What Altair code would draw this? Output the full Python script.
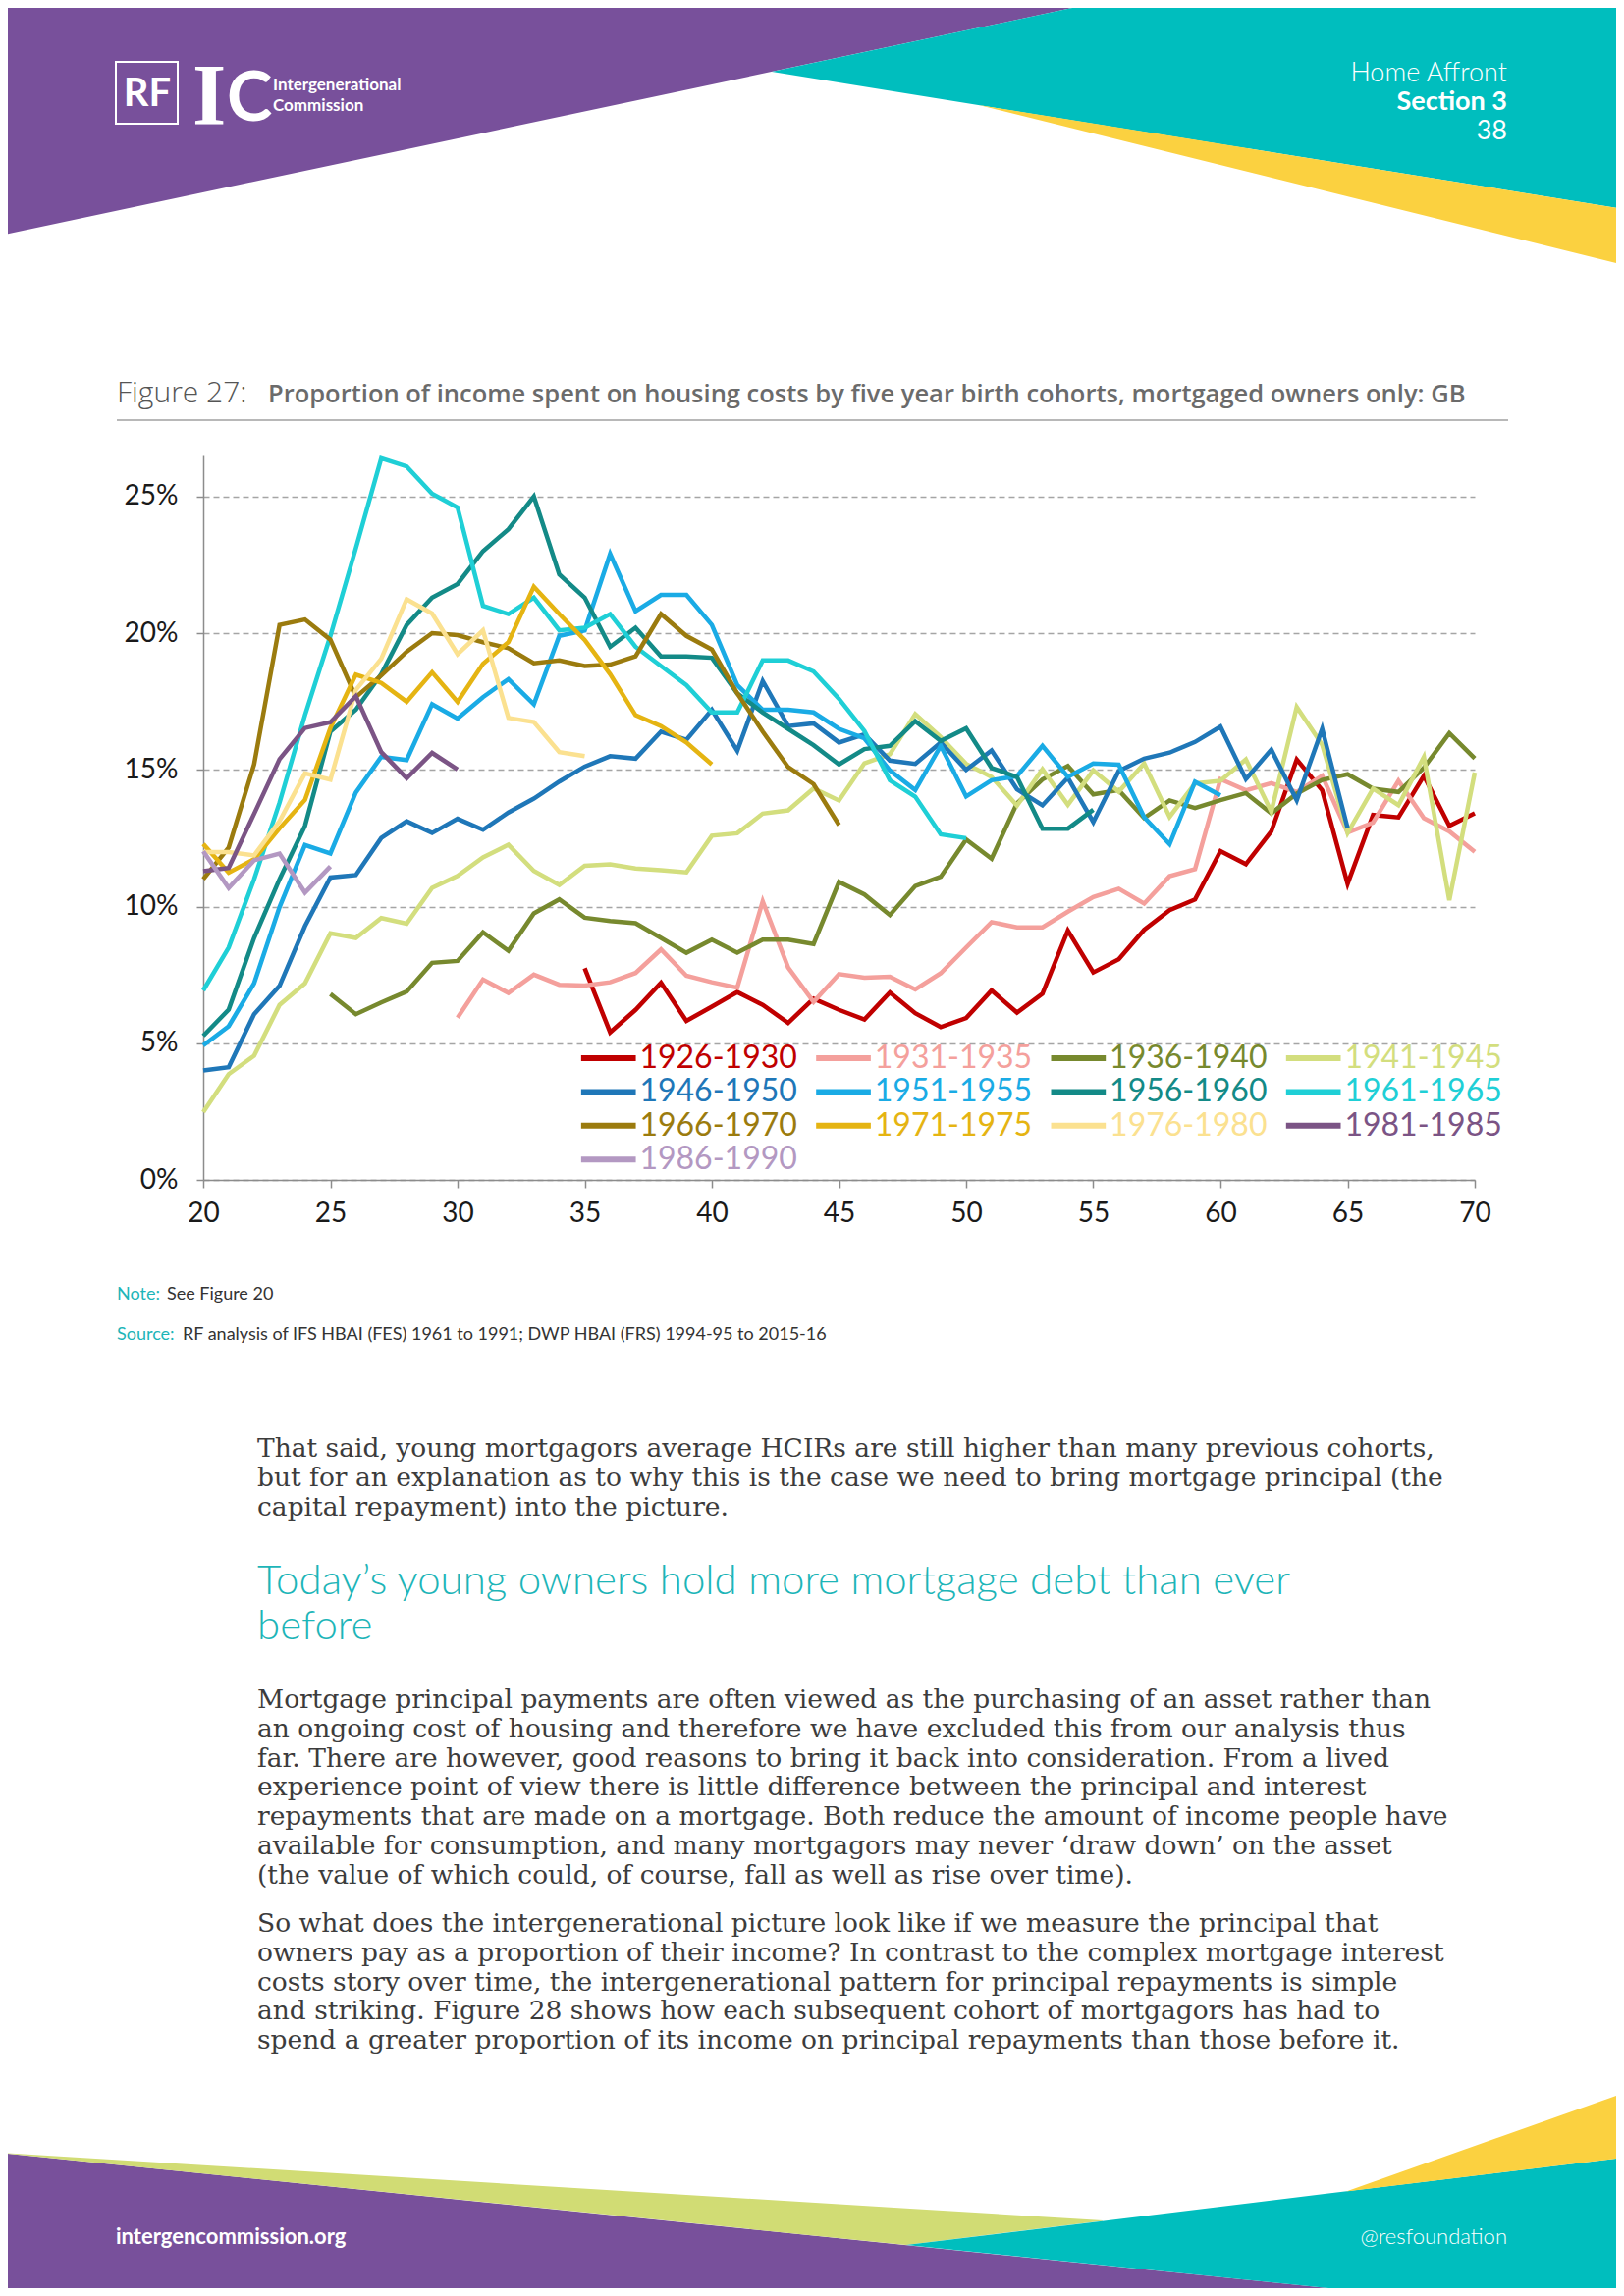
import altair as alt
import pandas as pd

# ---------------- data ----------------
cohorts = ["1926-1930", "1931-1935", "1936-1940", "1941-1945", "1946-1950",
           "1951-1955", "1956-1960", "1961-1965", "1966-1970", "1971-1975",
           "1976-1980", "1981-1985", "1986-1990"]
colors = ["#C00000", "#F4A09C", "#77892E", "#D3DE7E", "#1F77B8", "#1AABE5",
          "#138A87", "#1FCFD6", "#9B7B0E", "#E5B412", "#FBE190", "#7B5485", "#B398C2"]
start_age = [35, 30, 25, 20, 20, 20, 20, 20, 20, 20, 20, 20, 20]

v1926 = [7.74, 5.40, 6.22, 7.21, 5.82, 6.34, 6.87, 6.40, 5.74, 6.63, 6.22, 5.87, 6.86, 6.10,
         5.59, 5.92, 6.93, 6.12, 6.81, 9.12, 7.59, 8.07, 9.15, 9.87, 10.26, 12.03, 11.55,
         12.75, 15.38, 14.25, 10.83, 13.35, 13.26, 14.78, 12.95, 13.41]
v1931 = [5.93, 7.33, 6.84, 7.51, 7.14, 7.11, 7.23, 7.57, 8.43, 7.47, 7.23, 7.03, 10.19, 7.77,
         6.51, 7.53, 7.40, 7.43, 6.97, 7.56, 8.50, 9.43, 9.24, 9.24, 9.81, 10.35, 10.65,
         10.11, 11.11, 11.37, 14.66, 14.25, 14.51, 14.19, 14.78, 12.71, 13.07, 14.60, 13.23,
         12.75, 12.00]
v1936 = [6.80, 6.06, 6.49, 6.89, 7.94, 8.01, 9.06, 8.38, 9.75, 10.26, 9.59, 9.47, 9.39, 8.85,
         8.31, 8.79, 8.31, 8.79, 8.79, 8.63, 10.90, 10.44, 9.69, 10.75, 11.09, 12.45, 11.75,
         13.78, 14.65, 15.14, 14.10, 14.26, 13.24, 13.88, 13.60, 13.89, 14.15, 13.41, 14.13,
         14.63, 14.84, 14.31, 14.19, 15.08, 16.34, 15.42]
v1941 = [2.48, 3.87, 4.54, 6.40, 7.19, 9.02, 8.85, 9.58, 9.37, 10.68, 11.12, 11.80, 12.26,
         11.30, 10.79, 11.49, 11.54, 11.39, 11.33, 11.25, 12.59, 12.68, 13.40, 13.52, 14.32,
         13.88, 15.24, 15.57, 17.04, 16.20, 15.22, 14.74, 13.69, 15.02, 13.72, 14.98, 14.20,
         15.23, 13.28, 14.50, 14.60, 15.38, 13.47, 17.30, 15.92, 12.69, 14.31, 13.71, 15.47,
         10.23, 14.90]
v1946 = [4.00, 4.12, 6.06, 7.10, 9.28, 11.06, 11.15, 12.51, 13.12, 12.69, 13.21, 12.81, 13.44,
         13.95, 14.57, 15.12, 15.50, 15.41, 16.40, 16.10, 17.20, 15.70, 18.25, 16.60, 16.70,
         16.00, 16.30, 15.34, 15.22, 16.00, 15.00, 15.71, 14.29, 13.70, 14.71, 13.09, 14.96,
         15.41, 15.63, 16.02, 16.58, 14.66, 15.74, 13.89, 16.50, 12.87]
v1951 = [4.92, 5.62, 7.19, 9.98, 12.25, 11.94, 14.17, 15.48, 15.36, 17.40, 16.88, 17.66, 18.32,
         17.40, 19.90, 20.10, 22.90, 20.80, 21.40, 21.40, 20.30, 18.10, 17.20, 17.20, 17.10,
         16.50, 16.15, 14.98, 14.26, 15.88, 14.03, 14.62, 14.77, 15.88, 14.74, 15.23, 15.19,
         13.27, 12.28, 14.56, 14.07]
v1956 = [5.27, 6.23, 8.85, 11.00, 12.95, 16.40, 17.20, 18.50, 20.30, 21.30, 21.80, 23.00,
         23.80, 25.00, 22.15, 21.30, 19.50, 20.20, 19.15, 19.15, 19.10, 17.80, 17.10, 16.50,
         15.90, 15.20, 15.76, 15.88, 16.78, 16.06, 16.52, 15.07, 14.74, 12.85, 12.85, 13.54]
v1961 = [6.93, 8.50, 11.00, 13.80, 17.00, 19.90, 23.10, 26.40, 26.10, 25.10, 24.60, 21.00,
         20.70, 21.30, 20.10, 20.20, 20.70, 19.50, 18.80, 18.10, 17.10, 17.10, 19.00, 19.00,
         18.60, 17.60, 16.42, 14.62, 14.02, 12.64, 12.50]
v1966 = [11.00, 12.16, 15.20, 20.30, 20.50, 19.76, 17.66, 18.45, 19.32, 20.00, 19.93, 19.67,
         19.45, 18.90, 19.00, 18.80, 18.85, 19.15, 20.70, 19.90, 19.40, 17.80, 16.40, 15.10,
         14.48, 12.98]
v1971 = [12.29, 11.24, 11.73, 12.86, 13.90, 16.53, 18.48, 18.18, 17.49, 18.57, 17.49, 18.88,
         19.67, 21.70, 20.70, 19.75, 18.50, 17.00, 16.60, 16.00, 15.20]
v1976 = [11.99, 11.99, 11.87, 13.12, 14.87, 14.64, 17.92, 19.06, 21.24, 20.72, 19.23, 20.10,
         16.90, 16.75, 15.65, 15.50]
v1981 = [11.29, 11.41, 13.39, 15.39, 16.53, 16.74, 17.70, 15.65, 14.69, 15.62, 15.01]
v1986 = [12.02, 10.68, 11.69, 11.94, 10.51, 11.47]

series = [v1926, v1931, v1936, v1941, v1946, v1951, v1956, v1961, v1966, v1971, v1976,
          v1981, v1986]
x_ticks = [20, 25, 30, 35, 40, 45, 50, 55, 60, 65, 70]
y_ticks = [0, 5, 10, 15, 20, 25]

rows = []
for c, a0, vals in zip(cohorts, start_age, series):
    for i, v in enumerate(vals):
        rows.append({"cohort": c, "age": a0 + i, "value": v})
df = pd.DataFrame(rows)

# legend table built from the cohort list (4 columns)
leg = []
for i, c in enumerate(cohorts):
    col, row = i % 4, i // 4
    x0 = 34.86 + col * 9.24
    leg.append({"cohort": c, "lx0": x0, "lx1": x0 + 2.15, "tx": x0 + 2.3,
                "ly": 4.45 - row * 1.235})
df_leg = pd.DataFrame(leg)

# ---------------- layout helpers ----------------
OX, OY = 207, 464          # page position of the plot's top-left corner
W, H = 1295, 738
FONT = "Lato"
SERIF = "DejaVu Serif"

cscale = alt.Scale(domain=cohorts, range=colors)
xscale = alt.Scale(domain=[20, 70], nice=False, zero=False)
yscale = alt.Scale(domain=[0, 26.5], nice=False)


def area(points, color):
    d = pd.DataFrame([{"px": x - OX, "top": t - OY, "bot": b - OY} for x, t, b in points])
    return alt.Chart(d).mark_area(color=color, opacity=1).encode(
        x=alt.X("px:Q", scale=None),
        y=alt.Y("top:Q", scale=None),
        y2="bot:Q")


def text(txt, px, py, size, color, align="left", weight="normal", font=FONT,
         baseline="alphabetic", line_height=None):
    kw = dict(text=txt, align=align, baseline=baseline, fontSize=size, font=font,
              fontWeight=weight, color=color)
    if line_height:
        kw["lineHeight"] = line_height
    return alt.Chart(alt.Data(values=[{}])).mark_text(**kw).encode(
        x=alt.value(px - OX), y=alt.value(py - OY))


# ---------------- page decoration ----------------
PURPLE, TEAL, YELLOW, GREEN = "#78509B", "#00BEBE", "#FBD140", "#D1DC74"
deco = [
    area([(8, 8, 238.3), (1092, 8, 8)], PURPLE),
    area([(786, 73, 73), (1092, 8, 122.4), (1646, 8, 211.7)], TEAL),
    area([(997, 107, 107), (1646, 211.7, 268)], YELLOW),
    area([(8, 2194, 2331), (1353, 2331, 2331)], PURPLE),
    area([(8, 2193.5, 2194), (923, 2249.7, 2287), (1123, 2262, 2262.4)], GREEN),
    area([(923, 2287, 2287), (1353, 2234.6, 2331), (1646, 2199, 2331)], TEAL),
    area([(1371, 2232.4, 2232.4), (1646, 2135, 2199)], YELLOW),
]

logo_box = alt.Chart(alt.Data(values=[{}])).mark_rect(
    filled=False, stroke="white", strokeWidth=2).encode(
    x=alt.value(118 - OX), x2=alt.value(181 - OX), y=alt.value(63 - OY), y2=alt.value(126 - OY))

underline = alt.Chart(alt.Data(values=[{}])).mark_rule(color="#A0A0A0", strokeWidth=1.5).encode(
    x=alt.value(119 - OX), x2=alt.value(1536 - OX), y=alt.value(428 - OY))

BODY = "#3C3C3C"
HEAD_TEAL = "#1DB5B8"
texts = [
    text("RF", 150, 96, 40, "white", align="center", weight="bold", baseline="middle"),
    text("I", 196, 126, 88, "white", weight="bold", font="Liberation Serif"),
    text("C", 231, 123, 70, "white", weight="bold"),
    text("Intergenerational", 278, 92, 17, "white", weight="bold"),
    text("Commission", 278, 113, 17, "white", weight="bold"),
    text("Home Affront", 1535, 83, 27, "white", align="right", weight=300),
    text("Section 3", 1535, 112, 27, "white", align="right", weight="bold"),
    text("38", 1535, 142, 27, "white", align="right"),
    text("Figure 27:", 119, 410, 30, "#555555", weight=300, font="Open Sans"),
    text("Proportion of income spent on housing costs by five year birth cohorts, "
         "mortgaged owners only: GB", 273, 410, 25.5, "#6B6B6B", weight=600, font="Open Sans"),
    text("Note:", 119, 1324, 18, HEAD_TEAL),
    text("See Figure 20", 170, 1324, 18, "#333333"),
    text("Source:", 119, 1365, 18, HEAD_TEAL),
    text("RF analysis of IFS HBAI (FES) 1961 to 1991; DWP HBAI (FRS) 1994-95 to 2015-16",
         186, 1365, 18, "#333333"),
    text(["That said, young mortgagors average HCIRs are still higher than many previous cohorts,",
          "but for an explanation as to why this is the case we need to bring mortgage principal (the",
          "capital repayment) into the picture."],
         262, 1484, 26.5, BODY, font=SERIF, line_height=29.8),
    text(["Today\u2019s young owners hold more mortgage debt than ever", "before"],
         262, 1624, 42, HEAD_TEAL, weight=300, line_height=46),
    text(["Mortgage principal payments are often viewed as the purchasing of an asset rather than",
          "an ongoing cost of housing and therefore we have excluded this from our analysis thus",
          "far. There are however, good reasons to bring it back into consideration. From a lived",
          "experience point of view there is little difference between the principal and interest",
          "repayments that are made on a mortgage. Both reduce the amount of income people have",
          "available for consumption, and many mortgagors may never \u2018draw down\u2019 on the asset",
          "(the value of which could, of course, fall as well as rise over time)."],
         262, 1740, 26.5, BODY, font=SERIF, line_height=29.8),
    text(["So what does the intergenerational picture look like if we measure the principal that",
          "owners pay as a proportion of their income? In contrast to the complex mortgage interest",
          "costs story over time, the intergenerational pattern for principal repayments is simple",
          "and striking. Figure 28 shows how each subsequent cohort of mortgagors has had to",
          "spend a greater proportion of its income on principal repayments than those before it."],
         262, 1968, 26.5, BODY, font=SERIF, line_height=29.8),
    text("intergencommission.org", 118, 2286, 22, "white", weight="bold"),
    text("@resfoundation", 1535, 2286, 22, "white", align="right", weight=300),
]

# ---------------- the chart ----------------
x_axis = alt.Axis(values=x_ticks, title=None, grid=False, labelFontSize=28,
                  labelFont=FONT, labelColor="#1A1A1A", domainColor="#8C8C8C",
                  domainWidth=1.5, tickColor="#8C8C8C", tickWidth=1.5, tickSize=8,
                  labelPadding=12, format="d", labelFlush=False)
y_axis = alt.Axis(values=y_ticks, title=None, grid=True, gridDash=[6, 4],
                  gridColor="#A5A5A5", gridWidth=1.5, labelFontSize=28,
                  labelFont=FONT, labelColor="#1A1A1A", labelExpr="datum.value + '%'",
                  domainColor="#8C8C8C", domainWidth=1.5, tickColor="#8C8C8C",
                  tickWidth=1.5, tickSize=7, labelPadding=19, labelFlush=False)

lines = alt.Chart(df).mark_line(strokeWidth=4.5).encode(
    x=alt.X("age:Q", scale=xscale, axis=x_axis),
    y=alt.Y("value:Q", scale=yscale, axis=y_axis),
    color=alt.Color("cohort:N", scale=cscale, legend=None),
    order=alt.Order("age:Q"),
)

leg_lines = alt.Chart(df_leg).mark_rule(strokeWidth=6).encode(
    x=alt.X("lx0:Q", scale=xscale, axis=x_axis), x2="lx1:Q",
    y=alt.Y("ly:Q", scale=yscale, axis=y_axis),
    color=alt.Color("cohort:N", scale=cscale, legend=None))

leg_text = alt.Chart(df_leg).mark_text(align="left", baseline="middle", fontSize=32,
                                       font=FONT).encode(
    x=alt.X("tx:Q", scale=xscale, axis=x_axis),
    y=alt.Y("ly:Q", scale=yscale, axis=y_axis),
    text="cohort:N",
    color=alt.Color("cohort:N", scale=cscale, legend=None))

core = alt.layer(lines, leg_lines, leg_text)
page = alt.layer(*deco, logo_box, underline, *texts)

chart = alt.layer(core, page).resolve_scale(x="independent", y="independent").properties(
    width=W, height=H, padding=0
).configure(background="white").configure_view(stroke=None)

chart.save("out.html", embed_options={"renderer": "svg", "actions": False})
